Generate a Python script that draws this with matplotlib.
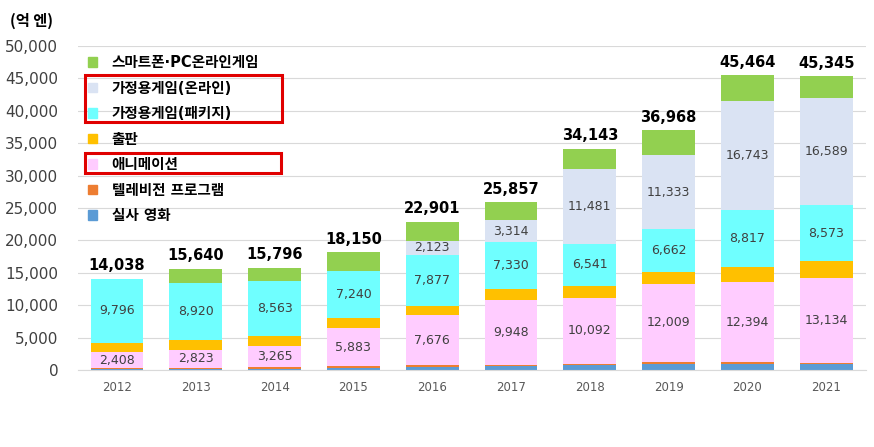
import matplotlib.pyplot as plt
import numpy as np
from matplotlib.patches import Patch, Rectangle

plt.rcParams['font.family'] = ['DejaVu Sans', 'Noto Sans CJK KR']

years = ['2012', '2013', '2014', '2015', '2016', '2017', '2018', '2019', '2020', '2021']
live_film = [100, 120, 200, 300, 400, 600, 800, 1000, 1000, 900]
tv_program = [200, 180, 300, 300, 370, 200, 200, 300, 200, 150]
animation = [2408, 2823, 3265, 5883, 7676, 9948, 10092, 12009, 12394, 13134]
publishing = [1534, 1460, 1430, 1540, 1480, 1700, 1870, 1810, 2340, 2630]
home_package = [9796, 8920, 8563, 7240, 7877, 7330, 6541, 6662, 8817, 8573]
home_online = [0, 0, 0, 0, 2123, 3314, 11481, 11333, 16743, 16589]
mobile_pc = [0, 2137, 2038, 2887, 2975, 2765, 3159, 3854, 3970, 3369]

series = [
    ('실사 영화', live_film, '#5B9BD5', False),
    ('텔레비전 프로그램', tv_program, '#ED7D31', False),
    ('애니메이션', animation, '#FFCCFF', True),
    ('출판', publishing, '#FFC000', False),
    ('가정용게임(패키지)', home_package, '#6FFFFF', True),
    ('가정용게임(온라인)', home_online, '#DAE3F3', True),
    ('스마트폰·PC온라인게임', mobile_pc, '#92D050', False),
]

fig = plt.figure(figsize=(8.74, 4.47), dpi=100)
ax = fig.add_axes([77.6 / 874, 1 - 370 / 447, 788 / 874, 324 / 447])

x = np.arange(len(years))
bottom = np.zeros(len(years))
for name, vals, color, show in series:
    vals = np.array(vals, dtype=float)
    ax.bar(x, vals, 0.67, bottom=bottom, color=color, zorder=2)
    if show:
        for i, v in enumerate(vals):
            if v > 0:
                ax.text(x[i], bottom[i] + v / 2, f'{int(v):,}', ha='center', va='center',
                        fontsize=9, color='#404040', zorder=3)
    bottom += vals

for i, t in enumerate(bottom):
    ax.annotate(f'{int(t):,}', (x[i], t), xytext=(0, 4), textcoords='offset points',
                ha='center', va='bottom', fontsize=10.5, fontweight='bold', color='black')

ax.set_xlim(-0.5, len(years) - 0.5)
ax.set_ylim(0, 50000)
ax.set_yticks(range(0, 50001, 5000))
ax.set_yticklabels([f'{v:,}' for v in range(0, 50001, 5000)], fontsize=11, color='#404040')
ax.set_xticks(x)
ax.set_xticklabels(years, fontsize=8.5, color='#595959')
ax.tick_params(length=0)
ax.tick_params(axis='y', pad=14)
ax.tick_params(axis='x', pad=8)
ax.grid(axis='y', color='#D9D9D9', linewidth=0.8, zorder=0)
for s in ['top', 'right', 'left']:
    ax.spines[s].set_visible(False)
ax.spines['bottom'].set_color('#D9D9D9')

fig.text(10 / 874, 1 - 21 / 447, '(억 엔)', fontsize=11, fontweight='bold', va='center', ha='left',
         family=['Noto Sans CJK KR', 'DejaVu Sans'])

handles = [Patch(color=c, label=n) for n, v, c, s in series][::-1]
leg = ax.legend(handles=handles, loc='upper left', bbox_to_anchor=(-0.003, 1.012), frameon=False,
                handlelength=0.6, handleheight=0.6, handletextpad=1.0, labelspacing=0.72,
                prop={'family': ['DejaVu Sans', 'Noto Sans CJK KR'], 'size': 10.5, 'weight': 'bold'})

# red boxes
for (x0, y0, x1, y1) in [(85, 75, 282, 122), (85, 153, 281, 173)]:
    fig.patches.append(Rectangle((x0 / 874, 1 - y1 / 447), (x1 - x0) / 874, (y1 - y0) / 447,
                                 transform=fig.transFigure, fill=False, edgecolor='#E00000',
                                 linewidth=2.2, zorder=5))

fig.savefig('out.png', dpi=100)
